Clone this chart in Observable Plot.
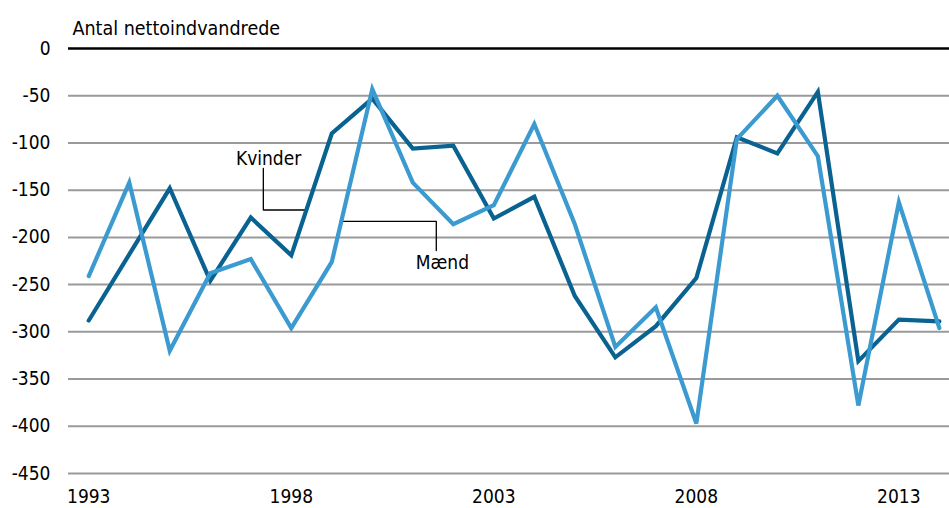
<!DOCTYPE html>
<html>
<head>
<meta charset="utf-8">
<script src="https://cdn.jsdelivr.net/npm/d3@7"></script>
<script src="https://cdn.jsdelivr.net/npm/@observablehq/plot@0.6"></script>
<style>
  html, body { margin: 0; padding: 0; background: #fff; }
  #chart svg { display: block; }
</style>
</head>
<body>
<div id="chart"></div>
<script>
const years = [1993,1994,1995,1996,1997,1998,1999,2000,2001,2002,2003,2004,2005,2006,2007,2008,2009,2010,2011,2012,2013,2014];
const kvinder = [-288,-218,-148,-246,-179,-219,-90,-53,-106,-103,-180,-157,-262,-327,-294,-243,-94,-111,-46,-331,-287,-289];
const maend   = [-241,-142,-320,-238,-223,-296,-226,-43,-142,-186,-166,-80,-186,-316,-274,-397,-96,-50,-114,-378,-163,-296];
const yTicks = [0,-50,-100,-150,-200,-250,-300,-350,-400,-450];
const xTicks = [1993,1998,2003,2008,2013];
const seriesNames = ["Kvinder","Mænd"];
const yTitle = "Antal nettoindvandrede";

const font = "'Liberation Sans Narrow', 'DejaVu Sans Condensed', 'Arial Narrow', sans-serif";
const dark = "#0a6290";
const light = "#3b9ad0";

const rows = [];
years.forEach((yr, i) => {
  rows.push({year: yr, value: kvinder[i], serie: seriesNames[0]});
  rows.push({year: yr, value: maend[i], serie: seriesNames[1]});
});

// annotation leader lines (data coordinates)
const kvLeader = [{x: 1997.31, y: -127}, {x: 1997.31, y: -171}, {x: 1998.35, y: -171}];
const mLeader = [{x: 1999.22, y: -183}, {x: 2001.58, y: -183}, {x: 2001.58, y: -214}];
const labels = [
  {x: 1997.44, y: -117, text: seriesNames[0]},
  {x: 2001.73, y: -227, text: seriesNames[1]}
];

const chart = Plot.plot({
  width: 949,
  height: 508,
  marginLeft: 68,
  marginRight: 0,
  marginTop: 48,
  marginBottom: 35,
  style: {fontFamily: font, fontSize: "19px", color: "#000", background: "#fff"},
  x: {domain: [1992.5, 2014.25], ticks: xTicks, tickFormat: d => String(d), tickSize: 0, tickPadding: 16, label: null},
  y: {domain: [-450, 0], ticks: yTicks, tickFormat: d => String(d), tickSize: 0, tickPadding: 18, label: null},
  marks: [
    Plot.ruleY(yTicks.filter(d => d !== 0), {stroke: "#9a9a9a", strokeWidth: 2}),
    Plot.ruleY([0], {stroke: "#000", strokeWidth: 2.5}),
    Plot.line(kvLeader, {x: "x", y: "y", stroke: "#000", strokeWidth: 1.3}),
    Plot.line(mLeader, {x: "x", y: "y", stroke: "#000", strokeWidth: 1.3}),
    Plot.line(rows, {x: "year", y: "value", z: "serie", stroke: d => d.serie === seriesNames[1] ? light : dark, strokeWidth: 4.2, strokeLinejoin: "miter", strokeMiterlimit: 4}),
    Plot.text(labels, {x: "x", y: "y", text: "text", fontSize: 19, fill: "#000"}),
    Plot.text([yTitle], {frameAnchor: "top-left", dx: 4, dy: -27, fontSize: 19.5, textAnchor: "start", fill: "#000"})
  ]
});
document.getElementById("chart").appendChild(chart);
</script>
</body>
</html>
